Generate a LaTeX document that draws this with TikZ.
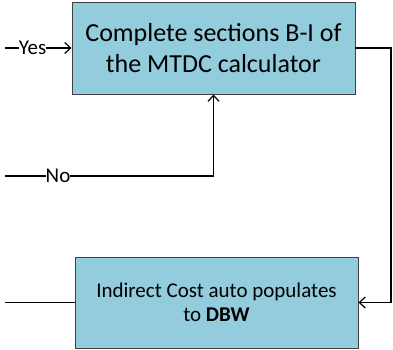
\documentclass[tikz,border=0pt]{standalone}
\usepackage{fontspec}
\setmainfont{Carlito}
\usetikzlibrary{arrows.meta}
\definecolor{boxfill}{HTML}{93CDDD}
\definecolor{boxedge}{HTML}{404040}
\tikzset{
  procbox/.style={draw=boxedge, line width=0.9pt, fill=boxfill, minimum width=283pt,
    align=center, inner sep=0pt},
  flow/.style={draw=black, line width=1.3pt},
  flowarrow/.style={flow, -{Straight Barb[length=6pt,width=11pt,line width=1.2pt]}},
  flowlabel/.style={fill=white, inner sep=0pt, font=\fontsize{21}{24}\selectfont},
}
\begin{document}
\begin{tikzpicture}[x=1pt,y=-1pt]
\useasboundingbox (0,0) rectangle (393,350);
% process boxes
\node[procbox, minimum height=92pt, font=\fontsize{26}{30.5}\selectfont] (calc) at (213.5,48)
  {Complete sections B-I of\\the MTDC calculator};
\node[procbox, minimum height=91pt, font=\fontsize{21}{24.4}\selectfont] (dbw) at (216.5,302.5)
  {Indirect Cost auto populates\\to \textbf{DBW}};
% free ends of incoming and outgoing lines
\coordinate (yesin) at (5,48);
\coordinate (noin) at (5,176);
\coordinate (out) at (5,302.5);
\coordinate (loop) at (391,48);
% connectors
\draw[flowarrow] (yesin) -- (calc.west);
\node[flowlabel] at (32.5,48) {Yes};
\draw[flowarrow] (noin) -| (calc.south);
\node[flowlabel] at (58,176) {No};
\draw[flowarrow] (calc.east) -- (loop) |- (dbw.east);
\draw[flow] (dbw.west) -- (out);
\end{tikzpicture}
\end{document}
